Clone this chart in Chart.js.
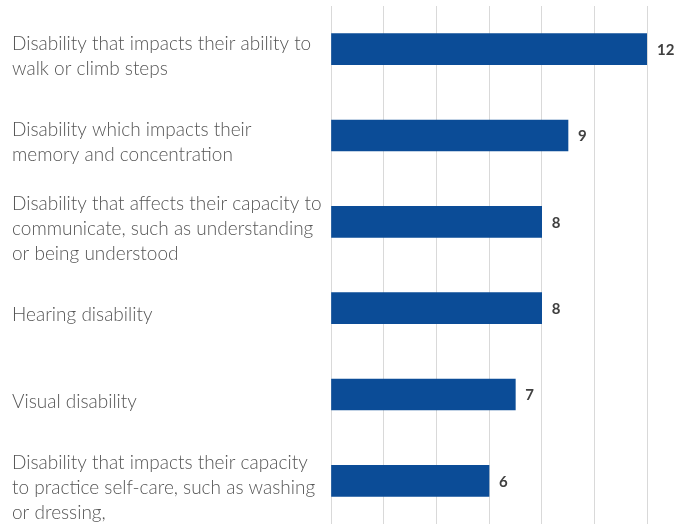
<!DOCTYPE html>
<html lang="en">
<head>
    <meta charset="UTF-8">
    <title>Types of disability</title>
    <script src="https://cdn.jsdelivr.net/npm/chart.js"></script>
    <style>
        html, body { margin: 0; padding: 0; background: #fff; }
        #wrap { width: 693px; height: 524px; }
    </style>
</head>
<body>
    <div id="wrap"><canvas id="disabilityChart" width="693" height="524"></canvas></div>

    <script>
        // categories (multi-line labels) and counts
        const categories = [
            ["Disability that impacts their ability to", "walk or climb steps"],
            ["Disability which impacts their", "memory and concentration"],
            ["Disability that affects their capacity to", "communicate, such as understanding", "or being understood"],
            "Hearing disability",
            "Visual disability",
            ["Disability that impacts their capacity", "to practice self-care, such as washing", "or dressing,"]
        ];
        const counts = [12, 9, 8, 8, 7, 6];
        const axisMax = 12;
        const axisStep = 2;

        const FONT = "'Lato', 'Open Sans', sans-serif";

        // writes the count just past the end of each bar
        const valueLabels = {
            id: "valueLabels",
            afterDatasetsDraw(chart) {
                const c = chart.ctx;
                const meta = chart.getDatasetMeta(0);
                c.save();
                c.font = "bold 15px " + FONT;
                c.fillStyle = "#404040";
                c.textAlign = "left";
                c.textBaseline = "middle";
                meta.data.forEach((bar, i) => {
                    c.fillText(String(counts[i]), bar.x + 10, bar.y + 1);
                });
                c.restore();
            }
        };

        const ctx = document.getElementById("disabilityChart").getContext("2d");

        new Chart(ctx, {
            type: "bar",
            data: {
                labels: categories,
                datasets: [{
                    data: counts,
                    backgroundColor: "#0b4c97",
                    borderWidth: 0,
                    barThickness: 31
                }]
            },
            plugins: [valueLabels],
            options: {
                indexAxis: "y",
                responsive: false,
                animation: false,
                layout: { padding: { left: 12, right: 46, top: 6, bottom: 0 } },
                plugins: {
                    legend: { display: false },
                    tooltip: { enabled: false }
                },
                scales: {
                    x: {
                        min: 0,
                        max: axisMax,
                        ticks: { display: false, stepSize: axisStep },
                        grid: { color: "#d9d9d9", lineWidth: 1, drawTicks: false },
                        border: { display: false }
                    },
                    y: {
                        afterFit(scale) {
                            scale.width = 319;
                            // the tall multi-line labels should not shrink the plot area
                            scale.paddingTop = 0;
                            scale.paddingBottom = 0;
                        },
                        ticks: {
                            crossAlign: "far",
                            labelOffset: 7,
                            color: "#555555",
                            font: { family: FONT, size: 19, weight: 300, lineHeight: 1.32 }
                        },
                        grid: { display: false },
                        border: { display: false }
                    }
                }
            }
        });
    </script>
</body>
</html>
